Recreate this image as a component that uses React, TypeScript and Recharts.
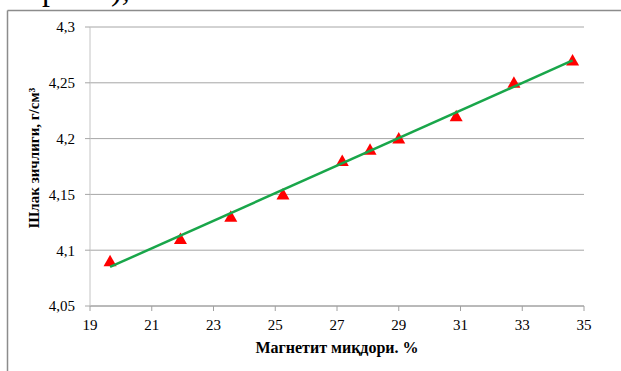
import {
  ScatterChart,
  Scatter,
  XAxis,
  YAxis,
  CartesianGrid,
} from "recharts";

// магнетит миқдори, % and measured slag density, г/см3
const magnetite = [19.65, 21.93, 23.56, 25.25, 27.17, 28.07, 29.0, 30.86, 32.73, 34.63];
const density = [4.09, 4.11, 4.13, 4.15, 4.18, 4.19, 4.2, 4.22, 4.25, 4.27];

// linear trend endpoints
const trendX = [19.65, 34.63];
const trendY = [4.085, 4.27];

const xTicks = [19, 21, 23, 25, 27, 29, 31, 33, 35];
const yTicks = [4.05, 4.1, 4.15, 4.2, 4.25, 4.3];

const points = magnetite.map((x, i) => ({ x, y: density[i] }));
const trend = trendX.map((x, i) => ({ x, y: trendY[i] }));

const FONT = "'Liberation Serif', 'Times New Roman', serif";

const fmt = (v: number) => String(v).replace(".", ",");

function Triangle(props: any) {
  const { cx, cy } = props;
  if (cx == null || cy == null) return null;
  return (
    <path
      d={`M${cx},${cy - 6.5} L${cx + 6.5},${cy + 5} L${cx - 6.5},${cy + 5} Z`}
      fill="#ff0000"
    />
  );
}

const noDot = () => null;

export default function App() {
  return (
    <div style={{ position: "absolute", left: 0, top: 0, width: 621, height: 371, background: "#fff", overflow: "hidden" }}>
      {/* frame and the tail of the caption line above it */}
      <svg width={621} height={371} style={{ position: "absolute", left: 0, top: 0 }}>
        <text x={42} y={0} fontFamily={FONT} fontSize={32} fill="#000">р</text>
        <text x={111} y={0} fontFamily={FONT} fontSize={32} fill="#000">),</text>
        <line x1={7.5} y1={10.5} x2={621} y2={10.5} stroke="#8c8c8c" strokeWidth={1.5} />
        <line x1={7.5} y1={10.5} x2={7.5} y2={371} stroke="#8c8c8c" strokeWidth={1.5} />
      </svg>
      <div style={{ position: "absolute", left: 0, top: 0 }}>
        <ScatterChart
          width={621}
          height={371}
          margin={{ top: 27, right: 37, bottom: 35, left: 0 }}
        >
          <CartesianGrid vertical={false} stroke="#a6a6a6" strokeWidth={1} />
          <XAxis
            type="number"
            dataKey="x"
            domain={[19, 35]}
            ticks={xTicks}
            height={30}
            stroke="#a0a0a0"
            tickSize={5}
            tickMargin={8}
            tick={{ fill: "#000", fontSize: 15, fontFamily: FONT }}
            label={{
              content: () => (
                <text
                  x={337}
                  y={353}
                  textAnchor="middle"
                  fontFamily={FONT}
                  fontSize={16}
                  fontWeight="bold"
                  fill="#000"
                >
                  Магнетит миқдори. %
                </text>
              ),
            }}
          />
          <YAxis
            type="number"
            dataKey="y"
            domain={[4.05, 4.3]}
            ticks={yTicks}
            width={90}
            stroke="#c4c4c4"
            tickSize={5}
            tickMargin={10}
            tickLine={{ stroke: "#a6a6a6" }}
            tickFormatter={fmt}
            tick={{ fill: "#000", fontSize: 15, fontFamily: FONT }}
            label={{
              content: () => (
                <text
                  transform="translate(39,158) rotate(-90)"
                  textAnchor="middle"
                  fontFamily={FONT}
                  fontSize={15}
                  fontWeight="bold"
                  fill="#000"
                >
                  Шлак зичлиги, г/см³
                </text>
              ),
            }}
          />
          <Scatter data={points} shape={<Triangle />} isAnimationActive={false} />
          <Scatter
            data={trend}
            line={{ stroke: "#19a64a", strokeWidth: 2.5 }}
            shape={noDot}
            isAnimationActive={false}
          />
        </ScatterChart>
      </div>
    </div>
  );
}
